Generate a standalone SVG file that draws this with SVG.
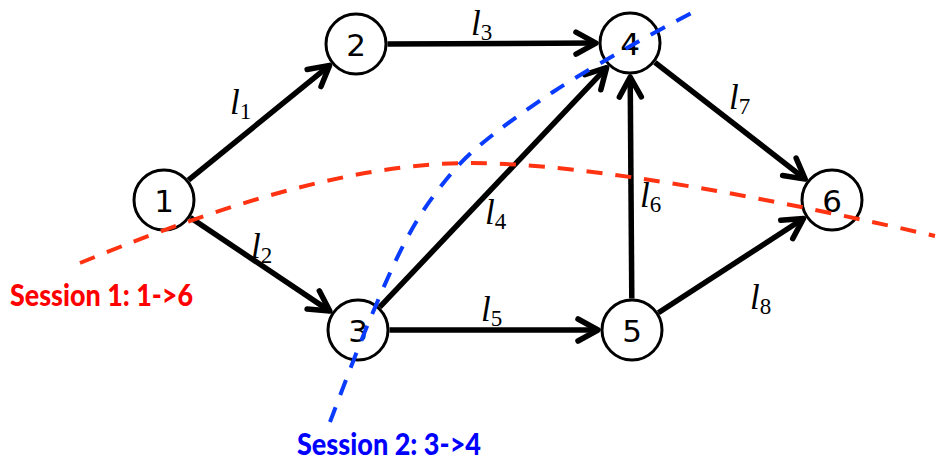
<svg xmlns="http://www.w3.org/2000/svg" width="946" height="462" viewBox="0 0 946 462">
<style>
.node circle{fill:#fff;stroke:#000;stroke-width:3}
.node text{font-family:"DejaVu Sans",sans-serif;font-size:31px;text-anchor:middle;fill:#000}
.edge{stroke:#000;stroke-width:5.5;fill:none;marker-end:url(#arr)}
.lab{font-family:"Liberation Serif",serif;fill:#000}
.lab .l{font-style:italic;font-size:35px}
.lab .s{font-size:23px}
.sess{fill:none;stroke-width:4;stroke-dasharray:16 13}
.stxt{font-family:Lato,"Open Sans",sans-serif;font-weight:900;font-size:31px}
</style>
<defs>
<marker id="arr" markerUnits="userSpaceOnUse" markerWidth="40" markerHeight="40" viewBox="-30 -20 40 40" refX="0" refY="0" orient="auto" overflow="visible">
<path d="M-20,-11 L0,0 L-20,11" fill="none" stroke="#000" stroke-width="5.5" stroke-linecap="round" stroke-linejoin="round"/>
</marker>
</defs>
<rect width="946" height="462" fill="#fff"/>
<g id="connectors">
<line class="edge" x1="188.4" y1="180.1" x2="329.6" y2="65.4"/>
<line class="edge" x1="387.5" y1="43.9" x2="596" y2="43.1"/>
<line class="edge" x1="190.2" y1="217.5" x2="329.8" y2="311.1"/>
<line class="edge" x1="379.7" y1="307.1" x2="606.6" y2="67.7"/>
<line class="edge" x1="389.5" y1="330" x2="598" y2="330"/>
<line class="edge" x1="631.8" y1="298.5" x2="630.2" y2="77"/>
<line class="edge" x1="654.9" y1="62.3" x2="805.2" y2="179.1"/>
<line class="edge" x1="658.4" y1="312.8" x2="803.5" y2="218.5"/>
</g>
<g id="edge-labels">
<text class="lab" x="230" y="114"><tspan class="l">l</tspan><tspan class="s" dy="5">1</tspan></text>
<text class="lab" x="251" y="258"><tspan class="l">l</tspan><tspan class="s" dy="5">2</tspan></text>
<text class="lab" x="471" y="35"><tspan class="l">l</tspan><tspan class="s" dy="5">3</tspan></text>
<text class="lab" x="485" y="224"><tspan class="l">l</tspan><tspan class="s" dy="5">4</tspan></text>
<text class="lab" x="481" y="321"><tspan class="l">l</tspan><tspan class="s" dy="5">5</tspan></text>
<text class="lab" x="640" y="207"><tspan class="l">l</tspan><tspan class="s" dy="5">6</tspan></text>
<text class="lab" x="729" y="109"><tspan class="l">l</tspan><tspan class="s" dy="5">7</tspan></text>
<text class="lab" x="750" y="309"><tspan class="l">l</tspan><tspan class="s" dy="5">8</tspan></text>
</g>
<g id="n1" class="node"><circle cx="164" cy="200" r="30"/><text x="164" y="211.5">1</text></g>
<g id="n2" class="node"><circle cx="356" cy="44" r="30"/><text x="356" y="55.5">2</text></g>
<g id="n3" class="node"><circle cx="358" cy="330" r="30"/><text x="358" y="341.5">3</text></g>
<g id="n4" class="node"><circle cx="630" cy="43" r="30"/><text x="630" y="55">4</text></g>
<g id="n5" class="node"><circle cx="632" cy="330" r="30"/><text x="632" y="341.5">5</text></g>
<g id="n6" class="node"><circle cx="832" cy="200" r="30"/><text x="832" y="212">6</text></g>
<g id="session1">
<path class="sess" stroke="#ff3311" d="M80,263 C190,217.9 340,163 470,163 C590,163 785,201.5 935,236"/>
<text class="stxt" x="10" y="306" fill="#ff0000" textLength="183" lengthAdjust="spacingAndGlyphs">Session 1: 1-&gt;6</text>
</g>
<g id="session2">
<path class="sess" stroke="#0a3cff" d="M330,422 C336.3,405.7 355.5,354 368,324 C380.5,294 393.3,264.3 405,242 C416.7,219.7 425.7,206 438,190 C450.3,174 459.8,162.3 479,146 C498.2,129.7 527.2,109 553,92 C578.8,75 610,57.7 634,44 C658,30.3 686.5,15.7 697,10"/>
<text class="stxt" x="297" y="455" fill="#0000ff" textLength="184" lengthAdjust="spacingAndGlyphs">Session 2: 3-&gt;4</text>
</g>
</svg>
